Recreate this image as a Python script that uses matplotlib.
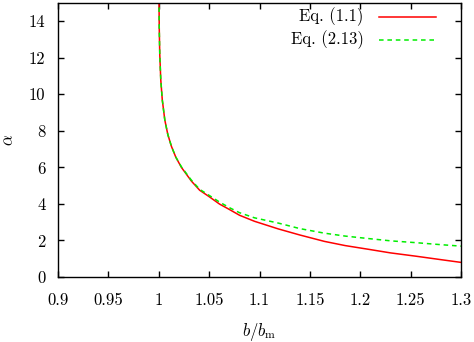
import matplotlib
matplotlib.use("Agg")
import matplotlib.pyplot as plt

plt.rcParams['font.family'] = ['cmr10', 'DejaVu Serif']
plt.rcParams['mathtext.fontset'] = 'cm'
plt.rcParams['axes.unicode_minus'] = False
plt.rcParams['axes.formatter.use_mathtext'] = True

# Values
b_over_bm = [1.0002, 1.0005, 1.001, 1.002, 1.0035, 1.006, 1.009, 1.0126,
             1.017, 1.0225, 1.0324, 1.0406, 1.05, 1.0604, 1.07, 1.0802,
             1.095, 1.1188, 1.14, 1.1644, 1.185, 1.2089, 1.23, 1.2551,
             1.28, 1.3]
alpha_exact = [15.4, 13.6, 12.2, 10.8, 9.7, 8.6, 7.8, 7.15,
               6.55, 6.0, 5.25, 4.75, 4.4, 3.99, 3.7, 3.38,
               3.05, 2.63, 2.3, 1.95, 1.72, 1.51, 1.32, 1.14,
               0.95, 0.80]
alpha_sdl = [15.4, 13.6, 12.2, 10.8, 9.7, 8.6, 7.8, 7.15,
             6.56, 6.03, 5.3, 4.8, 4.47, 4.1, 3.8, 3.52,
             3.24, 2.95, 2.65, 2.40, 2.24, 2.10, 1.98, 1.88,
             1.77, 1.69]

xticks = [0.9, 0.95, 1.0, 1.05, 1.1, 1.15, 1.2, 1.25, 1.3]
xticklabels = ['0.9', '0.95', '1', '1.05', '1.1', '1.15', '1.2', '1.25', '1.3']
yticks = [0, 2, 4, 6, 8, 10, 12, 14]
yticklabels = ['0', '2', '4', '6', '8', '10', '12', '14']
labels = ['Eq. (1.1)', 'Eq. (2.13)']

fig = plt.figure(figsize=(4.74, 3.42), dpi=100)
ax = fig.add_axes([58/474, 1-277/342, 403/474, 274/342])

red = '#ff0000'
green = '#00ee00'
dash = (3, 2.5)
lw = 1.1

ax.plot(b_over_bm, alpha_exact, color=red, lw=lw)
ax.plot(b_over_bm, alpha_sdl, color=green, lw=lw, dashes=dash)

ax.set_xlim(0.9, 1.3)
ax.set_ylim(0, 15)
ax.set_xticks(xticks)
ax.set_xticklabels(xticklabels)
ax.set_yticks(yticks)
ax.set_yticklabels(yticklabels)
ax.tick_params(direction='in', length=4, width=1, top=True, right=True,
               labelsize=12)
ax.tick_params(axis='x', pad=11)
ax.tick_params(axis='y', pad=9)
for s in ax.spines.values():
    s.set_linewidth(1)

ax.set_xlabel(r'$b/b_{\rm m}$', fontsize=12, labelpad=10)
ax.set_ylabel(r'$\alpha$', fontsize=12, labelpad=9, rotation=90)

# gnuplot-style key: right-aligned text, sample line to the right
rows_y = [0.950, 0.865]
ax.text(0.7586, rows_y[0], labels[0], transform=ax.transAxes,
        ha='right', va='center', fontsize=12)
ax.plot([0.7958, 0.938], [rows_y[0]] * 2, transform=ax.transAxes,
        color=red, lw=lw, clip_on=False)
ax.text(0.7586, rows_y[1], labels[1], transform=ax.transAxes,
        ha='right', va='center', fontsize=12)
ax.plot([0.7958, 0.938], [rows_y[1]] * 2, transform=ax.transAxes,
        color=green, lw=lw, dashes=dash, clip_on=False)

fig.savefig('out.png', dpi=100)
